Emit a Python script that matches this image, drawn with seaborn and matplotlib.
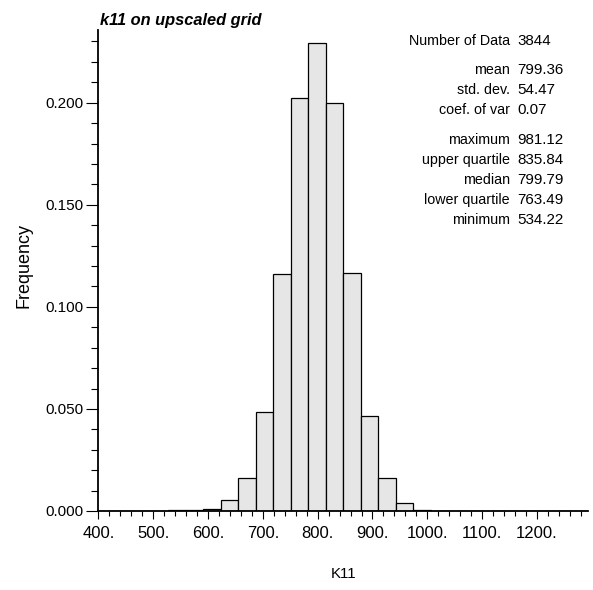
import numpy as np
import pandas as pd
import matplotlib
matplotlib.use('Agg')
import matplotlib.pyplot as plt
import seaborn as sns
from matplotlib.ticker import MultipleLocator, FormatStrFormatter

sns.set_style('white')
plt.rcParams['font.family'] = ['Liberation Sans', 'DejaVu Sans']
plt.rcParams['text.color'] = 'black'
plt.rcParams['axes.labelcolor'] = 'black'
plt.rcParams['xtick.color'] = 'black'
plt.rcParams['ytick.color'] = 'black'

# histogram bins (GSLIB style, 28 classes between 400 and ~1293)
x_min = 400.0
x_max = 1293.0
n_bins = 28
bin_edges = np.linspace(x_min, x_max, n_bins + 1)
bin_centers = 0.5 * (bin_edges[:-1] + bin_edges[1:])

# relative frequency per class
freqs = [0.0, 0.0, 0.0, 0.0, 0.0003, 0.0003, 0.0012, 0.0054,
         0.0160, 0.0486, 0.1159, 0.2021, 0.2290, 0.1997, 0.1164,
         0.0465, 0.0160, 0.0041, 0.0005, 0.0, 0.0, 0.0, 0.0, 0.0,
         0.0, 0.0, 0.0, 0.0]

stat_labels = ['Number of Data', 'mean', 'std. dev.', 'coef. of var',
               'maximum', 'upper quartile', 'median', 'lower quartile',
               'minimum']
stat_values = ['3844', '799.36', '54.47', '0.07', '981.12', '835.84',
               '799.79', '763.49', '534.22']
stat_baselines = [45, 73.5, 93.5, 114, 144, 164, 184, 204, 223.5]  # px from top

hist_df = pd.DataFrame({'K11': bin_centers, 'freq': freqs})

W, H = 593, 590
fig = plt.figure(figsize=(W / 100, H / 100), dpi=100)
ax_left, ax_right, ax_top, ax_bot = 98.3, 588, 30, 511
ax_w, ax_h = ax_right - ax_left, ax_bot - ax_top
ax = fig.add_axes([ax_left / W, 1 - ax_bot / H, ax_w / W, ax_h / H])

sns.histplot(data=hist_df, x='K11', weights='freq', bins=list(bin_edges),
             stat='count', color='#e6e6e6', edgecolor='black',
             linewidth=0.9, alpha=1, ax=ax)

ax.set_xlim(x_min, x_max)
ax.set_ylim(0, 0.2356)

ax.xaxis.set_major_locator(MultipleLocator(100))
ax.xaxis.set_minor_locator(MultipleLocator(20))
ax.xaxis.set_major_formatter(FormatStrFormatter('%d.'))
ax.yaxis.set_major_locator(MultipleLocator(0.05))
ax.yaxis.set_minor_locator(MultipleLocator(0.01))
ax.yaxis.set_major_formatter(FormatStrFormatter('%.3f'))

ax.tick_params(axis='x', which='major', direction='out', length=6.1,
               width=0.8, pad=5, labelsize=12, bottom=True)
ax.tick_params(axis='x', which='minor', direction='out', length=3.6,
               width=0.8, bottom=True)
ax.tick_params(axis='y', which='major', direction='out', length=8.6,
               width=0.8, pad=2.4, labelsize=11, left=True)
ax.tick_params(axis='y', which='minor', direction='out', length=4.7,
               width=0.8, left=True)

for side in ['top', 'right']:
    ax.spines[side].set_visible(False)
for side in ['left', 'bottom']:
    ax.spines[side].set_color('black')
    ax.spines[side].set_linewidth(1.3)

ax.set_xlabel('K11', fontsize=10.8)
ax.set_ylabel('Frequency', fontsize=13)
ax.xaxis.set_label_coords(0.5, (ax_bot - 567) / ax_h)
ax.yaxis.set_label_coords((32 - ax_left) / ax_w, 0.5 + (270.5 - 266) / ax_h)

fig.text(100 / W, 1 - 25 / H, 'k11 on upscaled grid', fontsize=11.8,
         fontweight='bold', fontstyle='italic', ha='left', va='baseline')

for lab, val, yb in zip(stat_labels, stat_values, stat_baselines):
    fig.text(510 / W, 1 - yb / H, lab, fontsize=10.3, ha='right',
             va='baseline')
    fig.text(517.5 / W, 1 - yb / H, val, fontsize=10.9, ha='left',
             va='baseline')

fig.savefig('out.png', dpi=100)
